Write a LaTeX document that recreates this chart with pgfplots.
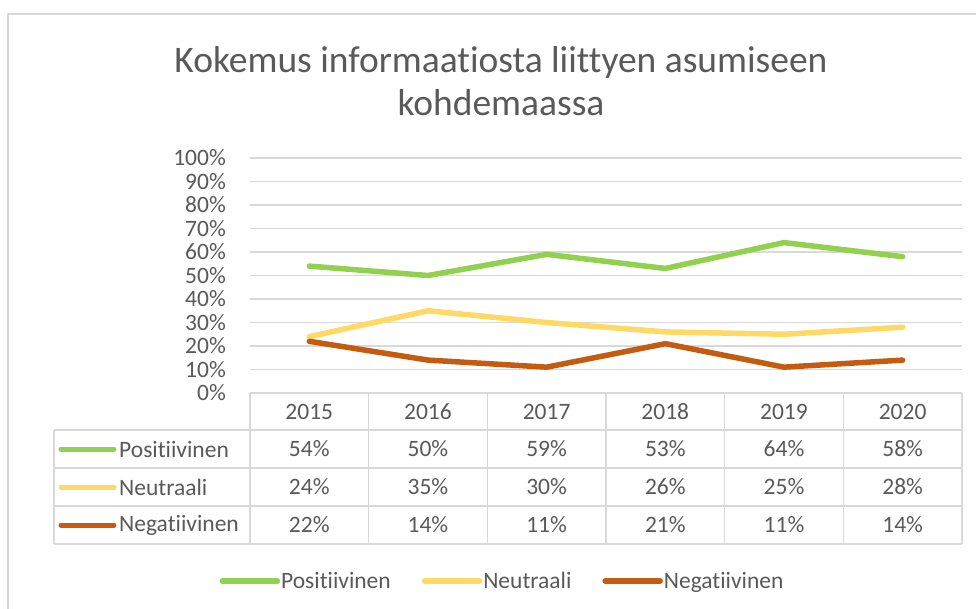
\documentclass[border=0pt]{standalone}
\usepackage{fontspec}
\setmainfont{Carlito}[Ligatures={NoCommon}]
\usepackage{pgfplots}
\usepackage{pgfplotstable}
\pgfplotsset{compat=1.18}
\definecolor{cpos}{HTML}{92D050}
\definecolor{cneu}{HTML}{FFD966}
\definecolor{cneg}{HTML}{C55A11}
\definecolor{txt}{HTML}{595959}
\definecolor{grd}{HTML}{D9D9D9}
\pgfplotstableread{
x pos neu neg
0 54 24 22
1 50 35 14
2 59 30 11
3 53 26 21
4 64 25 11
5 58 28 14
}\datatable
\newcommand{\tf}{\fontsize{23.5}{28}\selectfont}
\begin{document}
\begin{tikzpicture}
\path[use as bounding box] (0pt,0pt) rectangle (976pt,-609pt);
\draw[grd, line width=1.5pt] (8pt,-609pt) -- (8pt,-14pt) -- (976pt,-14pt);
\node[text=txt, align=center, font=\fontsize{37.5}{43}\selectfont] at (501pt,-81pt) {Kokemus informaatiosta liittyen asumiseen\\kohdemaassa};
\begin{axis}[at={(250pt,-393pt)}, anchor=south west, scale only axis,
  width=712pt, height=235pt, clip=false,
  xmin=-0.5, xmax=5.5, ymin=0, ymax=100,
  xtick=\empty, ytick={0,10,...,100},
  yticklabel={\pgfmathprintnumber{\tick}\%},
  /pgf/number format/assume math mode=true,
  yticklabel style={font=\tf, text=txt, inner sep=0pt, anchor=east, xshift=-24pt},
  ymajorgrids, grid style={grd, line width=1.5pt},
  axis line style={draw=none}, major tick length=0pt,
  legend columns=3,
  legend style={at={(0.354,-0.80)}, anchor=center, draw=none, fill=none, font=\tf, text=txt,
    nodes={inner sep=1pt},
    /tikz/every even column/.append style={column sep=30pt}},
  legend image code/.code={\draw[line cap=round] (0pt,0pt) -- (55pt,0pt);},
]
\addplot[cpos, line width=5.5pt, line cap=round, line join=round] table[x=x,y=pos]{\datatable};
\addplot[cneu, line width=5.5pt, line cap=round, line join=round] table[x=x,y=neu]{\datatable};
\addplot[cneg, line width=5.5pt, line cap=round, line join=round] table[x=x,y=neg]{\datatable};
\legend{Positiivinen,Neutraali,Negatiivinen}
\end{axis}
% data table
\begin{scope}[grd, line width=1.5pt]
\draw (250pt,-393pt) -- (962pt,-393pt);
\foreach \yy in {430,468,506,544} \draw (54pt,-\yy pt) -- (962pt,-\yy pt);
\draw (54pt,-430pt) -- (54pt,-544pt);
\foreach \i in {0,...,6} \draw ({250pt+\i*118.667pt},-393pt) -- ({250pt+\i*118.667pt},-544pt);
\end{scope}
\foreach \yr [count=\i from 0] in {2015,2016,2017,2018,2019,2020}
  \node[text=txt, font=\tf] at ({309.3pt+\i*118.667pt},-411.5pt) {\yr};
\foreach \v [count=\i from 0] in {54,50,59,53,64,58}
  \node[text=txt, font=\tf] at ({309.3pt+\i*118.667pt},-449pt) {\v\%};
\foreach \v [count=\i from 0] in {24,35,30,26,25,28}
  \node[text=txt, font=\tf] at ({309.3pt+\i*118.667pt},-487pt) {\v\%};
\foreach \v [count=\i from 0] in {22,14,11,21,11,14}
  \node[text=txt, font=\tf] at ({309.3pt+\i*118.667pt},-525pt) {\v\%};
\draw[cpos, line width=5pt, line cap=round] (61pt,-449pt) -- (114pt,-449pt);
\draw[cneu, line width=5pt, line cap=round] (61pt,-487pt) -- (114pt,-487pt);
\draw[cneg, line width=5pt, line cap=round] (61pt,-525pt) -- (114pt,-525pt);
\node[text=txt, font=\tf, anchor=west, inner sep=0pt] at (119pt,-449pt) {Positiivinen};
\node[text=txt, font=\tf, anchor=west, inner sep=0pt] at (119pt,-487pt) {Neutraali};
\node[text=txt, font=\tf, anchor=west, inner sep=0pt] at (119pt,-525pt) {Negatiivinen};
\end{tikzpicture}
\end{document}
